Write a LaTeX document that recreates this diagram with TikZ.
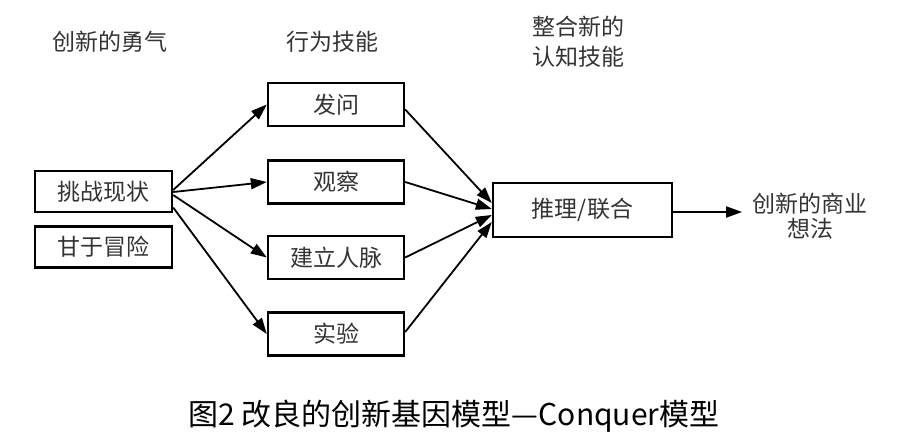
\documentclass[tikz,border=0pt]{standalone}
\usepackage{fontspec}
\setmainfont{Noto Sans CJK SC}
\usetikzlibrary{positioning}
\usetikzlibrary{arrows.meta}

\begin{document}
\begin{tikzpicture}[x=0.5pt, y=-0.5pt,
	box/.style={draw, line width=1.2pt, inner sep=0pt, minimum width=68pt,
		minimum height=21.5pt, text=black!80, font=\fontsize{11.5}{14}\selectfont},
	head/.style={text=black!80, align=left, font=\fontsize{11.5}{15}\selectfont},
	flow/.style={-{Triangle[length=8pt,width=5.5pt]}, line width=0.9pt}]
	\useasboundingbox (0,0) rectangle (906,445);
	% column headings
	\node[head] (courage) at (110,42) {创新的勇气};
	\node[head] (skills) at (332,42) {行为技能};
	\node[head] (cognitive) at (578,42) {整合新的\\认知技能};
	% boxes
	\node[box, minimum width=68.5pt, minimum height=20.5pt] (challenge) at (103.5,191.5) {挑战现状};
	\node[box, minimum width=68.5pt, minimum height=20.5pt] (risk) at (103.5,247) {甘于冒险};
	\node[box] (ask) at (336,104.5) {发问};
	\node[box] (observe) at (336,182) {观察};
	\node[box] (network) at (336,257.5) {建立人脉};
	\node[box] (experiment) at (336,334) {实验};
	\node[box, minimum width=89.5pt, minimum height=27pt] (reason) at (582.5,210) {推理/联合};
	\node[head, align=center, inner sep=5pt, font=\fontsize{11.5}{12.5}\selectfont] (idea) at (810,216) {创新的商业\\想法};
	% arrows
	\draw[flow] ([yshift=0.75pt]challenge.east) -- (ask.west);
	\draw[flow] ([yshift=-0.25pt]challenge.east) -- (observe.west);
	\draw[flow] ([yshift=-1.75pt]challenge.east) -- (network.west);
	\draw[flow] ([yshift=-8pt]challenge.east) -- (experiment.west);
	\draw[flow] ([yshift=-2.5pt]ask.east) -- ([yshift=3.5pt]reason.west);
	\draw[flow] (observe.east) -- ([yshift=0.5pt]reason.west);
	\draw[flow] (network.east) -- ([yshift=-2.5pt]reason.west);
	\draw[flow] ([yshift=1pt]experiment.east) -- ([yshift=-6pt]reason.west);
	\draw[flow] ([yshift=-1pt]reason.east) -- ([yshift=-1pt]idea.west |- reason.east);
	% caption
	\node[font=\fontsize{15}{18}\selectfont] (caption) at (454,416) {图2 改良的创新基因模型—Conquer模型};
\end{tikzpicture}
\end{document}
